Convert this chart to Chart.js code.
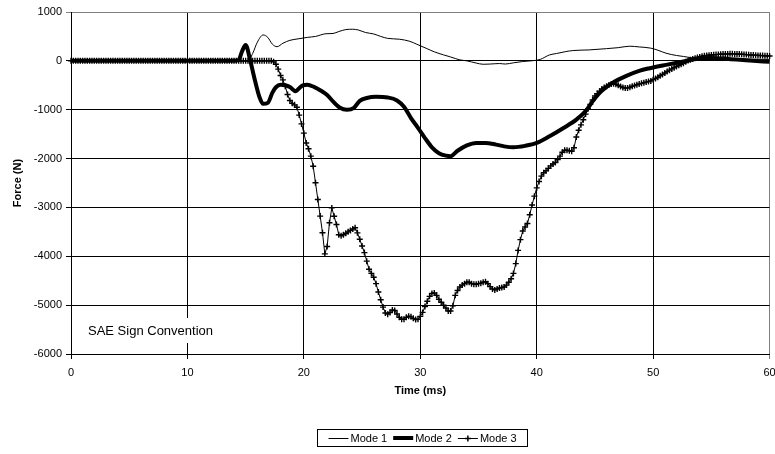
<!DOCTYPE html>
<html>
<head>
<meta charset="utf-8">
<title>Force vs Time</title>
<script src="https://cdn.jsdelivr.net/npm/chart.js@4/dist/chart.umd.min.js"></script>
<style>
  html, body { margin: 0; padding: 0; background: #fff; }
  canvas { display: block; }
</style>
</head>
<body>
<canvas id="chart" width="775" height="454"></canvas>
<script>
// ---- Data -------------------------------------------------------------
const X_TITLE = 'Time (ms)';
const Y_TITLE = 'Force (N)';
const NOTE_TEXT = 'SAE Sign Convention';
const SERIES_LABELS = ['Mode 1', 'Mode 2', 'Mode 3'];

const X_TICKS = [0, 10, 20, 30, 40, 50, 60];
const Y_TICKS = [1000, 0, -1000, -2000, -3000, -4000, -5000, -6000];

// Mode 1 (thin line) - time (ms) / force (N)
const mode1Time = [0, 15.2, 15.6, 16.0, 16.5, 16.9, 17.3, 17.7, 18.2, 18.8,
  19.5, 20.3, 21.0, 21.9, 22.5, 23.0, 23.6, 24.2, 24.7, 25.3,
  26.0, 26.6, 27.2, 28.2, 29.1, 29.7, 30.5, 31.2, 32.0, 32.6,
  33.4, 34.0, 34.8, 35.4, 36.0, 36.8, 37.3, 38.0, 38.8, 39.5,
  40.3, 41.1, 41.7, 42.5, 43.1, 44.5, 46.0, 47.0, 48.0, 48.8,
  49.8, 50.5, 51.1, 52.0, 52.6, 54.0, 56.0, 58.0, 60.0];
const mode1Force = [0, 0, 150, 380, 530, 480, 340, 290, 360, 420,
  450, 480, 500, 555, 560, 600, 640, 647, 630, 580,
  550, 500, 460, 443, 400, 340, 258, 185, 122, 80,
  20, 0, -45, -70, -65, -55, -65, -40, -14, 0,
  30, 122, 150, 190, 211, 224, 250, 270, 300, 285,
  260, 210, 157, 110, 90, 45, 40, 35, 30];

// Mode 2 (heavy line) - time (ms) / force (N)
const mode2Time = [0, 14.0, 14.4, 14.7, 15.0, 15.4, 15.8, 16.2, 16.5, 16.9,
  17.3, 17.6, 18.0, 18.4, 18.8, 19.3, 19.6, 19.9, 20.3, 20.9,
  21.4, 22.0, 22.5, 23.1, 23.7, 24.3, 24.8, 25.4, 26.2, 27.2,
  28.0, 28.6, 29.2, 29.8, 30.4, 31.0, 31.6, 32.2, 32.6, 33.2,
  34.0, 34.8, 35.6, 36.5, 37.2, 38.0, 39.0, 40.0, 41.1, 42.3,
  43.4, 44.3, 44.8, 45.3, 45.8, 46.5, 47.7, 48.8, 49.7, 51.1,
  52.6, 54.0, 55.0, 56.5, 58.3, 60.0];
const mode2Force = [0, 0, 20, 200, 326, 0, -400, -750, -880, -860,
  -650, -540, -490, -500, -537, -620, -560, -500, -490, -537,
  -600, -700, -830, -960, -1000, -960, -820, -760, -735, -750,
  -810, -940, -1170, -1370, -1580, -1770, -1890, -1940, -1950, -1840,
  -1730, -1680, -1680, -1714, -1750, -1769, -1740, -1680, -1544, -1374,
  -1204, -1000, -830, -680, -570, -450, -306, -204, -150, -82,
  -14, 55, 60, 40, 6, -20];

// Mode 3 (line with markers) - one sample every 0.2 ms from 0 to 60 ms
const MODE3_STEP_MS = 0.2;
const mode3Force = [
  /* 0  */ 0, 0, 0, 0, 0, 0, 0, 0, 0, 0,
  /* 2  */ 0, 0, 0, 0, 0, 0, 0, 0, 0, 0,
  /* 4  */ 0, 0, 0, 0, 0, 0, 0, 0, 0, 0,
  /* 6  */ 0, 0, 0, 0, 0, 0, 0, 0, 0, 0,
  /* 8  */ 0, 0, 0, 0, 0, 0, 0, 0, 0, 0,
  /* 10 */ 0, 0, 0, 0, 0, 0, 0, 0, 0, 0,
  /* 12 */ 0, 0, 0, 0, 0, 0, 0, 0, 0, 0,
  /* 14 */ 0, 0, 0, 0, 0, 0, 0, 0, 0, 0,
  /* 16 */ 0, 0, 0, 0, 0, 0, 0, -20, -70, -170,
  /* 18 */ -300, -390, -520, -690, -810, -870, -900, -950, -1110, -1290,
  /* 20 */ -1480, -1680, -1800, -1950, -2157, -2496, -2837, -3177, -3517, -3950,
  /* 22 */ -3800, -3313, -3010, -3180, -3350, -3560, -3580, -3560, -3530, -3500,
  /* 24 */ -3470, -3440, -3415, -3520, -3650, -3790, -3925, -4100, -4265, -4350,
  /* 26 */ -4430, -4560, -4730, -4890, -5040, -5160, -5184, -5150, -5100, -5110,
  /* 28 */ -5180, -5250, -5290, -5290, -5250, -5225, -5240, -5270, -5295, -5290,
  /* 30 */ -5230, -5149, -5030, -4920, -4820, -4760, -4750, -4800, -4880, -4940,
  /* 32 */ -5000, -5060, -5120, -5120, -5014, -4800, -4700, -4630, -4590, -4560,
  /* 34 */ -4530, -4530, -4560, -4570, -4571, -4560, -4550, -4530, -4520, -4560,
  /* 36 */ -4620, -4670, -4688, -4670, -4650, -4640, -4630, -4590, -4530, -4460,
  /* 38 */ -4350, -4150, -3880, -3660, -3483, -3400, -3330, -3150, -2950, -2769,
  /* 40 */ -2600, -2470, -2360, -2290, -2250, -2200, -2150, -2110, -2080, -2020,
  /* 42 */ -1950, -1870, -1830, -1830, -1840, -1850, -1780, -1560, -1420, -1310,
  /* 44 */ -1204, -1090, -980, -890, -800, -720, -670, -620, -575, -545,
  /* 46 */ -520, -495, -475, -470, -480, -500, -525, -545, -556, -555,
  /* 48 */ -540, -520, -505, -490, -475, -460, -448, -435, -422, -410,
  /* 50 */ -385, -360, -335, -305, -280, -250, -220, -190, -165, -140,
  /* 52 */ -116, -90, -70, -50, -20, 5, 25, 40, 55, 70,
  /* 54 */ 80, 95, 105, 110, 115, 120, 125, 128, 132, 135,
  /* 56 */ 138, 140, 142, 143, 143, 142, 140, 138, 135, 132,
  /* 58 */ 128, 124, 120, 118, 115, 112, 110, 108, 106, 104,
  /* 60 */ 100
];

// ---- Helpers ------------------------------------------------------------
const zip = (xs, ys) => xs.map((x, i) => ({ x: x, y: ys[i] }));
const mode3Points = mode3Force.map((v, i) => ({ x: +(i * MODE3_STEP_MS).toFixed(1), y: v }));

const FONT = '"Liberation Sans", Arial, Helvetica, sans-serif';
Chart.defaults.font.family = FONT;
Chart.defaults.color = '#000';

// Boxed note in the lower-left corner of the plot area
const notePlugin = {
  id: 'signNote',
  beforeDatasetsDraw(chart) {
    const { ctx, chartArea } = chart;
    ctx.save();
    ctx.fillStyle = '#fff';
    ctx.fillRect(chartArea.left + 8, chartArea.bottom - 36, 152, 25);
    ctx.font = '13px ' + FONT;
    ctx.fillStyle = '#000';
    ctx.textBaseline = 'middle';
    ctx.textAlign = 'left';
    ctx.fillText(NOTE_TEXT, chartArea.left + 17, chartArea.bottom - 23);
    ctx.restore();
  }
};

// Legend in a bordered box under the axis title, each entry with its line sample
const boxedLegendPlugin = {
  id: 'boxedLegend',
  afterDraw(chart) {
    const { ctx, chartArea } = chart;
    ctx.save();
    ctx.font = '11px ' + FONT;
    const sampleW = 20, gapS = 2, gapT = 6, padX = 11;
    const items = chart.data.datasets.map(ds => ({ ds, w: ctx.measureText(ds.label).width }));
    const total = items.reduce((s, it) => s + sampleW + gapS + it.w, 0) + gapT * (items.length - 1) + padX * 2;
    const cx = (chartArea.left + chartArea.right) / 2 + 2;
    const boxTop = chart.height - 25, boxH = 17;
    const left = Math.round(cx - total / 2) + 0.5;
    ctx.strokeStyle = '#000';
    ctx.lineWidth = 1;
    ctx.strokeRect(left, boxTop + 0.5, Math.round(total), boxH);
    const cy = boxTop + boxH / 2 + 0.5;
    let xPos = left + padX;
    items.forEach(({ ds, w }) => {
      ctx.beginPath();
      ctx.lineWidth = ds.borderWidth;
      ctx.strokeStyle = ds.borderColor;
      ctx.moveTo(xPos, Math.round(cy) + (ds.borderWidth % 2 ? 0.5 : 0));
      ctx.lineTo(xPos + sampleW, Math.round(cy) + (ds.borderWidth % 2 ? 0.5 : 0));
      ctx.stroke();
      if (ds.pointRadius > 0) {
        const mx = xPos + sampleW / 2, my = Math.round(cy) + 0.5, r = 3;
        ctx.beginPath();
        ctx.lineWidth = 1.5;
        ctx.moveTo(mx - r, my); ctx.lineTo(mx + r, my);
        ctx.moveTo(mx, my - r); ctx.lineTo(mx, my + r);
        ctx.stroke();
      }
      ctx.fillStyle = '#000';
      ctx.textBaseline = 'middle';
      ctx.textAlign = 'left';
      ctx.fillText(ds.label, xPos + sampleW + gapS, cy + 0.5);
      xPos += sampleW + gapS + w + gapT;
    });
    ctx.restore();
  }
};

new Chart(document.getElementById('chart'), {
  type: 'line',
  data: {
    datasets: [
      {
        label: SERIES_LABELS[0],
        data: zip(mode1Time, mode1Force),
        borderColor: '#000',
        borderWidth: 1,
        pointRadius: 0,
        cubicInterpolationMode: 'monotone',
        clip: 4,
        order: 2
      },
      {
        label: SERIES_LABELS[1],
        data: zip(mode2Time, mode2Force),
        borderColor: '#000',
        borderWidth: 4,
        pointRadius: 0,
        cubicInterpolationMode: 'monotone',
        borderJoinStyle: 'round',
        clip: 4,
        order: 1
      },
      {
        label: SERIES_LABELS[2],
        data: mode3Points,
        borderColor: '#000',
        borderWidth: 1,
        pointStyle: 'cross',
        pointRadius: 3,
        pointBorderWidth: 1.4,
        pointBorderColor: '#000',
        tension: 0,
        clip: 4,
        order: 0
      }
    ]
  },
  options: {
    responsive: false,
    animation: false,
    devicePixelRatio: 1,
    events: [],
    layout: { padding: { top: 12, right: 5, bottom: 0, left: 0 } },
    plugins: {
      legend: { display: false },
      tooltip: { enabled: false }
    },
    scales: {
      x: {
        type: 'linear',
        min: X_TICKS[0],
        max: X_TICKS[X_TICKS.length - 1],
        afterBuildTicks(scale) { scale.ticks = X_TICKS.map(v => ({ value: v })); },
        ticks: {
          color: '#000', font: { size: 11 }, padding: 7, maxRotation: 0, autoSkip: false,
          callback: v => String(v)
        },
        grid: {
          color: c => (c.tick && c.tick.value === X_TICKS[X_TICKS.length - 1]) ? '#7f7f7f' : '#000',
          lineWidth: 1,
          tickLength: 5
        },
        border: { display: true, color: '#000', width: 1 },
        title: {
          display: true,
          text: X_TITLE,
          color: '#000',
          font: { size: 11, weight: 'bold' },
          padding: { top: 0, bottom: 56 }
        },
        afterFit(scale) { scale.height = 100; scale.paddingLeft = 0; scale.paddingRight = 0; }
      },
      y: {
        type: 'linear',
        min: Y_TICKS[Y_TICKS.length - 1],
        max: Y_TICKS[0],
        afterBuildTicks(scale) { scale.ticks = Y_TICKS.slice().reverse().map(v => ({ value: v })); },
        ticks: {
          color: '#000', font: { size: 11 }, padding: 4, autoSkip: false,
          callback: v => String(v)
        },
        grid: {
          color: c => (c.tick && c.tick.value === Y_TICKS[0]) ? '#7f7f7f' : '#000',
          lineWidth: 1,
          tickLength: 5
        },
        border: { display: true, color: '#000', width: 1 },
        title: {
          display: true,
          text: Y_TITLE,
          color: '#000',
          font: { size: 11, weight: 'bold' },
          padding: { top: 11, bottom: 0 }
        },
        afterFit(scale) { scale.width = 71; scale.paddingTop = 0; scale.paddingBottom = 0; }
      }
    }
  },
  plugins: [notePlugin, boxedLegendPlugin]
});
</script>
</body>
</html>
